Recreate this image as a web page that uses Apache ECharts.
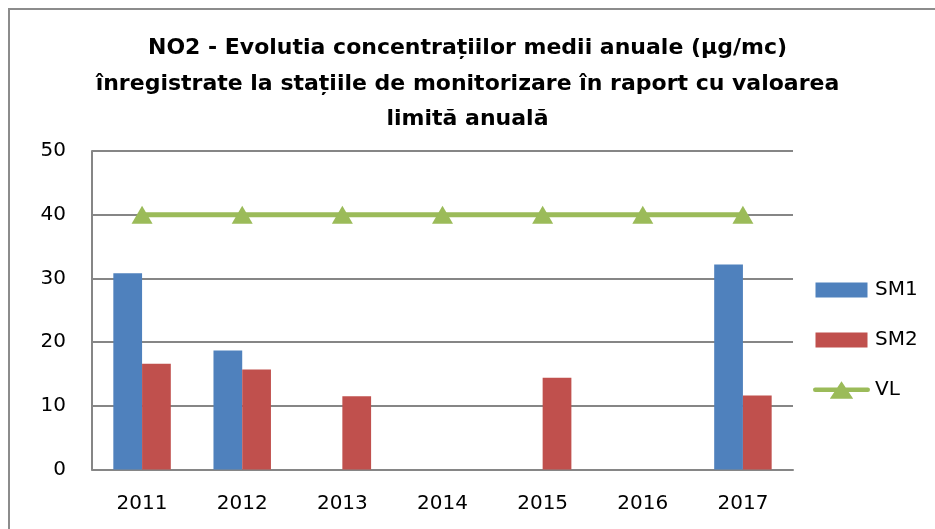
<!DOCTYPE html>
<html><head><meta charset="utf-8">
<script src="https://cdn.jsdelivr.net/npm/echarts@6/dist/echarts.min.js"></script>
<style>html,body{margin:0;padding:0;background:#fff}#c{width:935px;height:529px}</style>
</head><body><div id="c"></div>
<script>
const categories = ['2011','2012','2013','2014','2015','2016','2017'];
const sm1 = [30.8, 18.7, null, null, null, null, 32.2];
const sm2 = [16.6, 15.7, 11.5, null, 14.4, null, 11.6];
const vl = [40, 40, 40, 40, 40, 40, 40];
const yTicks = {min: 0, max: 50, interval: 10};
const titleText = 'NO2 - Evolutia concentrațiilor medii anuale (µg/mc)\nînregistrate la stațiile de monitorizare în raport cu valoarea\nlimită anuală';

const chart = echarts.init(document.getElementById('c'), null, {renderer: 'canvas'});
const labelFont = 'DejaVu Sans';
const rectIcon = 'path://M0,0 M2.5,1.5h52v15h-52z M57,18';
const lineIcon = 'path://M0,0 M1.5,6.5h54a2.25,2.25 0 0 1 0,4.5h-54a2.25,2.25 0 0 1 0,-4.5z M28.5,0L40.5,18L16.5,18z M57,18';
chart.setOption({
  animation: false,
  backgroundColor: '#fff',
  graphic: [{
    type: 'rect', shape: {x: 9, y: 9, width: 960, height: 560},
    style: {fill: 'none', stroke: '#8c8c8c', lineWidth: 2}, silent: true
  }],
  title: {
    text: titleText, left: 'center', top: 26,
    textStyle: {fontFamily: 'DejaVu Sans', fontWeight: 'bold', fontSize: 22, lineHeight: 35.5, color: '#000'}
  },
  grid: {left: 92, top: 151, width: 701, height: 318.5, containLabel: false},
  legend: {
    orient: 'vertical', left: 808, top: 275, itemGap: 30, itemWidth: 57, itemHeight: 18,
    textStyle: {fontFamily: labelFont, fontSize: 20, color: '#000'},
    data: [
      {name: 'SM1', icon: rectIcon},
      {name: 'SM2', icon: rectIcon},
      {name: 'VL', icon: lineIcon}
    ]
  },
  xAxis: {
    type: 'category', data: categories,
    axisLine: {lineStyle: {color: '#868686', width: 2}},
    axisTick: {show: false},
    axisLabel: {fontFamily: labelFont, fontSize: 20, color: '#000', margin: 24}
  },
  yAxis: {
    type: 'value', min: yTicks.min, max: yTicks.max, interval: yTicks.interval,
    axisLine: {show: true, lineStyle: {color: '#868686', width: 2}},
    axisTick: {show: false},
    axisLabel: {fontFamily: labelFont, fontSize: 20, color: '#000', margin: 26},
    splitLine: {lineStyle: {color: '#868686', width: 2}}
  },
  series: [
    {name: 'SM1', type: 'bar', data: sm1, barGap: '0%', barCategoryGap: '42.6%',
     itemStyle: {color: '#4F81BD'}},
    {name: 'SM2', type: 'bar', data: sm2, barGap: '0%', barCategoryGap: '42.6%',
     itemStyle: {color: '#C0504D'}},
    {name: 'VL', type: 'line', data: vl, symbol: 'triangle', symbolSize: [21, 18],
     lineStyle: {color: '#9BBB59', width: 5}, itemStyle: {color: '#9BBB59'}}
  ]
});
</script></body></html>
